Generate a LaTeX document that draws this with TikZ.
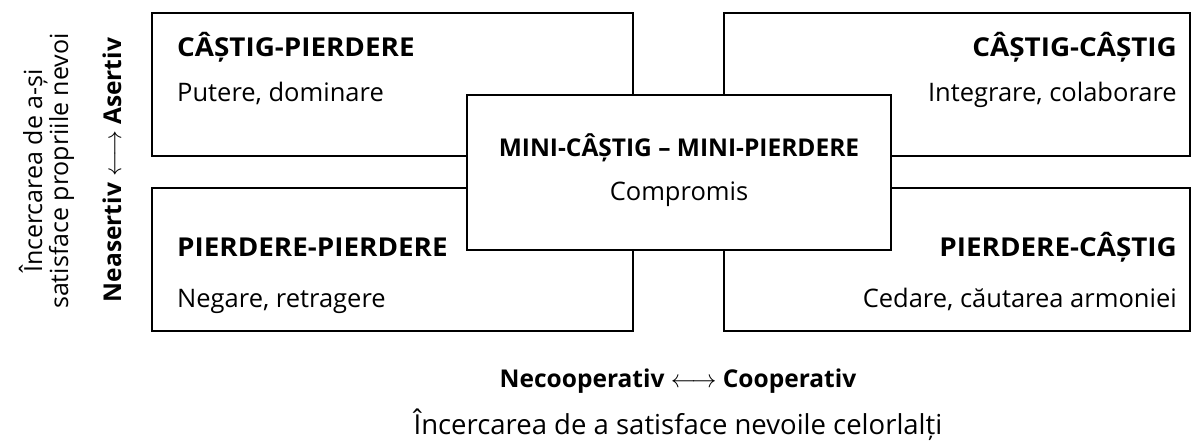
\documentclass[tikz,border=0pt]{standalone}
\usepackage{fontspec}
\setmainfont{Open Sans}
\begin{document}
\begin{tikzpicture}[x=1pt,y=-1pt,
  box/.style={draw=black,line width=2pt,fill=white,rectangle,inner sep=0pt},
  title/.style={font=\fontsize{26}{30}\selectfont\bfseries\addfontfeature{FakeStretch=1.07},inner sep=0pt},
  ctitle/.style={font=\fontsize{24.5}{28}\selectfont\bfseries,inner sep=0pt},
  axtitle/.style={font=\fontsize{24.5}{28}\selectfont\bfseries,inner sep=0pt},
  sub/.style={font=\fontsize{25.5}{29}\selectfont,inner sep=0pt},
  axsub/.style={font=\fontsize{27.5}{31}\selectfont,inner sep=0pt},
  lsub/.style={font=\fontsize{25}{29}\selectfont,inner sep=0pt}]
\useasboundingbox (0,0) rectangle (1202,441);
% boxes
\node[box,minimum width=481pt,minimum height=143pt] (tl) at (392.5,84.5) {};
\node[box,minimum width=466pt,minimum height=143pt] (tr) at (957,84.5) {};
\node[box,minimum width=481pt,minimum height=143pt] (bl) at (392.5,259.5) {};
\node[box,minimum width=466pt,minimum height=143pt] (br) at (957,259.5) {};
\node[box,minimum width=424pt,minimum height=155pt] (c) at (679,172.5) {};
% texts
\node[title,anchor=base west] (tlt) at (177,57) {CÂȘTIG-PIERDERE};
\node[sub,anchor=base west] (tls) at (177,102) {Putere, dominare};
\node[title,anchor=base east] (trt) at (1177,57) {CÂȘTIG-CÂȘTIG};
\node[sub,anchor=base east] (trs) at (1177,102) {Integrare, colaborare};
\node[title,anchor=base west] (blt) at (177,256) {PIERDERE-PIERDERE};
\node[sub,anchor=base west] (bls) at (177,307) {Negare, retragere};
\node[title,anchor=base east] (brt) at (1177,256) {PIERDERE-CÂȘTIG};
\node[sub,anchor=base east] (brs) at (1177,307) {Cedare, căutarea armoniei};
\node[ctitle,anchor=base] (ct) at (679,157) {MINI-CÂȘTIG – MINI-PIERDERE};
\node[sub,anchor=base] (cs) at (679,200) {Compromis};
% bottom axis labels
\node[axtitle,anchor=base] (ax) at (678,387) {Necooperativ $\longleftrightarrow$ Cooperativ};
\node[axsub,anchor=base] (axs) at (678,434) {Încercarea de a satisface nevoile celorlalți};
% left axis labels
\node[lsub,rotate=90,anchor=base] (ay1) at (42,171) {Încercarea de a-și};
\node[lsub,rotate=90,anchor=base] (ay2) at (68,171) {satisface propriile nevoi};
\node[axtitle,rotate=90,anchor=base] (ayb) at (121,170) {Neasertiv $\longleftrightarrow$ Asertiv};
\end{tikzpicture}
\end{document}
